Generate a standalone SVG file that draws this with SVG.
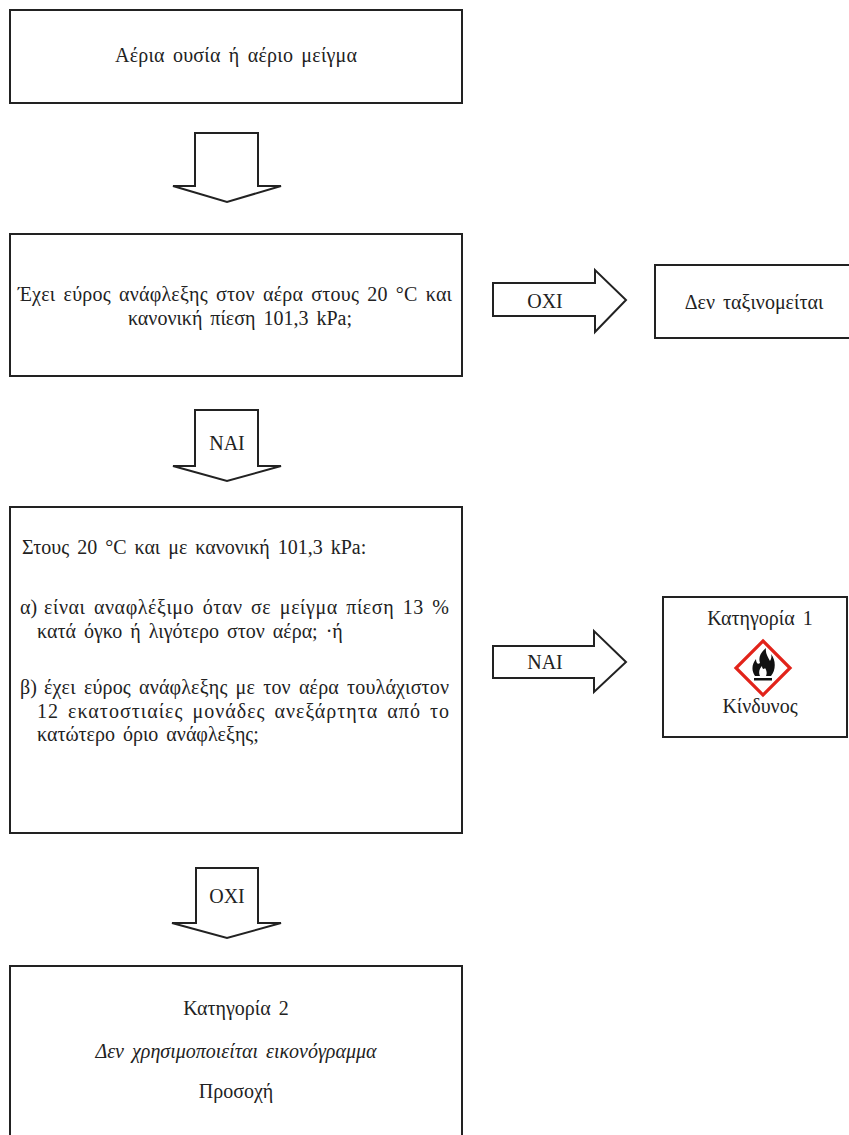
<svg xmlns="http://www.w3.org/2000/svg" width="849" height="1135" viewBox="0 0 849 1135">
<style>
.box{fill:#fff;stroke:#222;stroke-width:2}
.arr{fill:#fff;stroke:#222;stroke-width:2;stroke-linejoin:miter}
text{font-family:"Liberation Serif","DejaVu Serif",serif;font-size:20px;fill:#222;word-spacing:3px}
.c{text-anchor:middle}
.i{font-style:italic}
</style>
<rect width="849" height="1135" fill="#fff"/>
<g id="connectors">
<polygon class="arr" points="195,133 258,133 258,186 281,186 227,202 173,186 195,186"/>
<polygon class="arr" points="195,410 258,410 258,466 281,466 227,481 173,466 195,466"/>
<text class="c" x="227" y="450">NAI</text>
<polygon class="arr" points="196,868 258,868 258,923 281,923 227,938 172,923 196,923"/>
<text class="c" x="227" y="903">OXI</text>
<polygon class="arr" points="493,283 595,283 595,270 626,300 595,332 595,316 493,316"/>
<text class="c" x="545" y="308">OXI</text>
<polygon class="arr" points="493,646 594,646 594,631 626,662 594,692 594,678 493,678"/>
<text class="c" x="545" y="669">NAI</text>
</g>
<g id="n1">
<rect class="box" x="10" y="10" width="452" height="93"/>
<text class="c" x="236" y="62" textLength="242" lengthAdjust="spacing">Αέρια ουσία ή αέριο μείγμα</text>
</g>
<g id="n2">
<rect class="box" x="10" y="234" width="452" height="142"/>
<text x="18" y="301" textLength="434" lengthAdjust="spacing">Έχει εύρος ανάφλεξης στον αέρα στους 20 °C και</text>
<text class="c" x="240" y="325">κανονική πίεση 101,3 kPa;</text>
</g>
<g id="n3">
<rect class="box" x="655" y="265" width="200" height="73"/>
<text class="c" x="754" y="309">Δεν ταξινομείται</text>
</g>
<g id="n4">
<rect class="box" x="10" y="507" width="452" height="326"/>
<text x="22" y="554">Στους 20 °C και με κανονική 101,3 kPa:</text>
<text x="20" y="614">α)</text>
<text x="44" y="614" textLength="405" lengthAdjust="spacing">είναι αναφλέξιμο όταν σε μείγμα πίεση 13 %</text>
<text x="37" y="638">κατά όγκο ή λιγότερο στον αέρα; ·ή</text>
<text x="20" y="694">β)</text>
<text x="44" y="694" textLength="405" lengthAdjust="spacing">έχει εύρος ανάφλεξης με τον αέρα τουλάχιστον</text>
<text x="37" y="718" textLength="412" lengthAdjust="spacing">12 εκατοστιαίες μονάδες ανεξάρτητα από το</text>
<text x="37" y="741">κατώτερο όριο ανάφλεξης;</text>
</g>
<g id="n5">
<rect class="box" x="663" y="597" width="184" height="140"/>
<text class="c" x="760" y="625">Κατηγορία 1</text>
<polygon points="763,641 790,668 763,695 736,668" fill="#fff" stroke="#e2231a" stroke-width="3.2" stroke-linejoin="miter"/>
<path d="M755,676 C751,670 752,664 756,659 C756,663 758,665 760,663 C758,657 761,652 766,648 C765,653 768,657 770,661 C771,659 772,657 771,654 C776,660 776,670 771,676 Z" fill="#111"/>
<path d="M760,676 C758,672 760,668 762,666 C762,669 764,670 765,668 C767,671 767,674 766,676 Z" fill="#fff"/>
<rect x="754" y="678" width="18" height="2.5" fill="#111"/>
<text class="c" x="760" y="713">Κίνδυνος</text>
</g>
<g id="n6">
<rect class="box" x="10" y="966" width="452" height="180"/>
<text class="c" x="236" y="1015">Κατηγορία 2</text>
<text class="c i" x="236" y="1058">Δεν χρησιμοποιείται εικονόγραμμα</text>
<text class="c" x="236" y="1098">Προσοχή</text>
</g>
</svg>
